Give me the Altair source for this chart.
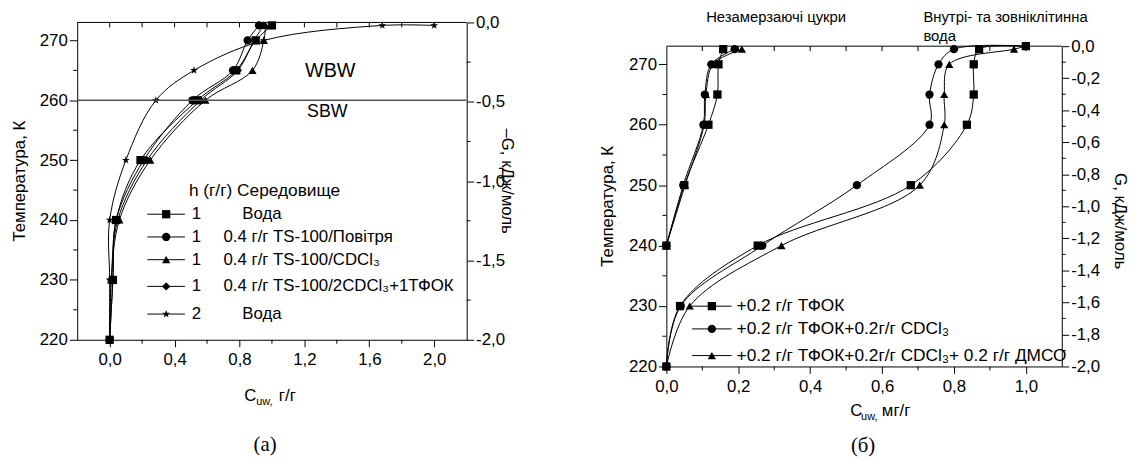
import altair as alt
import pandas as pd

FONT = "Liberation Sans"
SERIF = "Liberation Serif"

# ---------------- panel (a) data ----------------
a_T = [220, 230, 240, 250, 260, 265, 270, 272.5]
a_voda = [0.00, 0.02, 0.04, 0.19, 0.54, 0.78, 0.90, 1.00]
a_povitria = [0.00, 0.02, 0.04, 0.21, 0.51, 0.76, 0.85, 0.92]
a_cdcl3 = [0.00, 0.01, 0.06, 0.25, 0.59, 0.88, 0.95, 0.96]
a_tfok = [0.00, 0.01, 0.05, 0.23, 0.56, 0.79, 0.89, 0.95]
a_T2 = [220, 230, 240, 250, 260, 265, 270, 272.5, 272.5]
a_voda2 = [0.00, 0.00, 0.00, 0.10, 0.285, 0.52, 0.95, 1.68, 2.00]

a_names = ["1 Вода", "1 Повітря", "1 CDCl3", "1 2CDCl3+1ТФОК", "2 Вода"]
a_leg_h = ["1", "1", "1", "1", "2"]
a_leg_text = ["Вода", "0.4 г/г TS-100/Повітря", "0.4 г/г TS-100/CDCl₃",
              "0.4 г/г TS-100/2CDCl₃+1ТФОК", "Вода"]
a_leg_head = "h (г/г) Середовище"
a_hline = [260]
a_zone = ["WBW", "SBW"]

a_x_major = [0.0, 0.4, 0.8, 1.2, 1.6, 2.0]
a_x_minor = [0.2, 0.6, 1.0, 1.4, 1.8]
a_x_top = [0.0, 0.2, 0.4, 0.6, 0.8, 1.0, 1.2, 1.4, 1.6, 1.8, 2.0]
a_G_major = [0.0, -0.5, -1.0, -1.5, -2.0]
a_G_minor = [-0.25, -0.75, -1.25, -1.75]

# ---------------- panel (б) data ----------------
b_T_s = [240, 250, 260, 265, 270, 272.5]
b_sq_s = [0.00, 0.050, 0.117, 0.142, 0.145, 0.158]
b_ci_s = [0.00, 0.047, 0.103, 0.107, 0.125, 0.190]
b_tr_s = [0.00, 0.052, 0.105, 0.110, 0.130, 0.210]
b_T_w = [220, 230, 240, 250, 260, 265, 270, 272.5, 273]
b_sq_w = [0.00, 0.038, 0.254, 0.68, 0.836, 0.855, 0.855, 0.87, 1.00]
b_ci_w = [0.00, 0.040, 0.267, 0.53, 0.732, 0.732, 0.757, 0.80, 1.00]
b_tr_w = [0.00, 0.065, 0.320, 0.705, 0.773, 0.773, 0.787, 0.967, 1.00]

b_names = ["ТФОК", "ТФОК+CDCl3", "ТФОК+CDCl3+ДМСО"]
b_leg_text = ["+0.2 г/г ТФОК", "+0.2 г/г ТФОК+0.2г/г CDCl₃",
              "+0.2 г/г ТФОК+0.2г/г CDCl₃+ 0.2 г/г ДМСО"]
b_note1 = "Незамерзаючі цукри"
b_note2 = ["Внутрі- та зовніклітинна", "вода"]

b_x_major = [0.0, 0.2, 0.4, 0.6, 0.8, 1.0]
b_x_minor = [0.1, 0.3, 0.5, 0.7, 0.9]
b_x_top = [0.1, 0.2, 0.3, 0.4, 0.5, 0.6, 0.7, 0.8, 0.9, 1.0]
b_G_major = [0.0, -0.2, -0.4, -0.6, -0.8, -1.0, -1.2, -1.4, -1.6, -1.8, -2.0]
b_G_minor = [-0.1, -0.3, -0.5, -0.7, -0.9, -1.1, -1.3, -1.5, -1.7, -1.9]

T_major = [220, 230, 240, 250, 260, 270]
T_minor = [225, 235, 245, 255, 265]

y_title = "Температура, К"
a_g_title = "–G, кДж/моль"
b_g_title = "G, кДж/моль"

STAR = ("M0,-1L0.224,-0.309L0.951,-0.309L0.363,0.118L0.588,0.809L0,0.382"
        "L-0.588,0.809L-0.363,0.118L-0.951,-0.309L-0.224,-0.309Z")

DUMMY = pd.DataFrame({"d": [0]})


def lab(dec):
    return ("replace(replace(format(datum.value, '.%df'), '.', ','), '\u2212', '-')" % dec)


def txt(s, x, y, size=16, align="left", font=FONT, angle=0):
    return alt.Chart(DUMMY).mark_text(text=s, align=align, baseline="middle", fontSize=size,
                                      font=font, color="black", angle=angle).encode(
        x=alt.value(x), y=alt.value(y))


def seg(x1, x2, y):
    return alt.Chart(DUMMY).mark_rule(color="black", strokeWidth=1).encode(
        x=alt.value(x1), x2=alt.value(x2), y=alt.value(y))


def sym(shape, x, y, size=70):
    return alt.Chart(DUMMY).mark_point(shape=shape, filled=True, color="black", opacity=1,
                                       size=size).encode(x=alt.value(x), y=alt.value(y))


def build_panel(df, names, shapes, W, H, top, xdom, xmaj, xmin_, xtop,
                gmaj, gmin, extras):
    xs = alt.Scale(domain=xdom, nice=False, zero=False)
    ys = alt.Scale(domain=[220, 273], nice=False, zero=False, range=[H, top])
    gs = alt.Scale(domain=[-2, 0], nice=False, zero=False, range=[H, top])
    lines = alt.Chart(df).mark_line(interpolate="catmull-rom", color="black", strokeWidth=1).encode(
        x=alt.X("x:Q", scale=xs, axis=alt.Axis(values=xmaj, tickSize=7, labelPadding=5,
                                                labelExpr=lab(1), labelFlush=False, title=None)),
        y=alt.Y("T:Q", scale=ys, axis=alt.Axis(values=T_major, tickSize=8, labelPadding=2,
                                                title=None)),
        detail="c:N", order="i:Q")
    pts = alt.Chart(df).mark_point(filled=True, color="black", opacity=1, size=70).encode(
        x=alt.X("x:Q", scale=xs, axis=None),
        y=alt.Y("T:Q", scale=ys, axis=None),
        shape=alt.Shape("s:N", scale=alt.Scale(domain=names, range=shapes), legend=None))
    frame_top = alt.Chart(DUMMY).mark_rule(color="black", strokeWidth=1).encode(
        x=alt.value(0), x2=alt.value(W), y=alt.value(top))
    ticks_top = alt.Chart(pd.DataFrame({"v": xtop})).mark_rule(color="black").encode(
        x=alt.X("v:Q", scale=xs, axis=None), y=alt.value(top), y2=alt.value(top + 5))
    ticks_bot = alt.Chart(pd.DataFrame({"v": xmin_})).mark_rule(color="black").encode(
        x=alt.X("v:Q", scale=xs, axis=None), y=alt.value(H), y2=alt.value(H + 4))
    ticks_left = alt.Chart(pd.DataFrame({"v": T_minor})).mark_rule(color="black").encode(
        y=alt.Y("v:Q", scale=ys, axis=None), x=alt.value(-4), x2=alt.value(0))
    gl = alt.Chart(pd.DataFrame({"g": gmin})).mark_rule(color="black").encode(
        y=alt.Y("g:Q", scale=gs, axis=alt.Axis(orient="right", values=gmaj, tickSize=7,
                                                labelPadding=2, labelExpr=lab(1), title=None)),
        x=alt.value(W), x2=alt.value(W + 4))
    layers = [lines, pts, frame_top, ticks_top, ticks_bot, ticks_left] + extras(ys) + [gl]
    return alt.layer(*layers).resolve_scale(x="independent", y="independent").properties(
        width=W, height=H)


# ---- build dataframes ----
rows = []
for name, xs_ in zip(a_names[:4], [a_voda, a_povitria, a_cdcl3, a_tfok]):
    for i, (t, v) in enumerate(zip(a_T, xs_)):
        rows.append({"s": name, "c": name, "i": i, "x": v, "T": t})
for i, (t, v) in enumerate(zip(a_T2, a_voda2)):
    rows.append({"s": a_names[4], "c": a_names[4], "i": i, "x": v, "T": t})
df_a = pd.DataFrame(rows)

rows = []
for name, s_, w_ in zip(b_names, [b_sq_s, b_ci_s, b_tr_s], [b_sq_w, b_ci_w, b_tr_w]):
    for i, (t, v) in enumerate(zip(b_T_s, s_)):
        rows.append({"s": name, "c": name + "_s", "i": i, "x": v, "T": t})
    for i, (t, v) in enumerate(zip(b_T_w, w_)):
        rows.append({"s": name, "c": name + "_w", "i": i, "x": v, "T": t})
df_b = pd.DataFrame(rows)

A_SHAPES = ["square", "circle", "triangle-up", "diamond", STAR]
B_SHAPES = ["square", "circle", "triangle-up"]

WA, HA = 394, 321
WB, HB, TB = 400, 348, 24


def extras_a(ys):
    lay = [alt.Chart(pd.DataFrame({"T": a_hline})).mark_rule(color="#555555", strokeWidth=1.5).encode(
        y=alt.Y("T:Q", scale=ys, axis=None))]
    lay.append(txt(a_zone[0], 256, 49, 20, "center"))
    lay.append(txt(a_zone[1], 253, 91, 18, "center"))
    lay.append(txt(a_leg_head, 113, 171, 17.5))
    ys_leg = [194, 217, 240, 267, 295]
    for k in range(5):
        y = ys_leg[k]
        lay.append(seg(71, 109, y))
        lay.append(sym(A_SHAPES[k], 90, y))
        lay.append(txt(a_leg_h[k], 116, y, 17))
        lay.append(txt(a_leg_text[k], 167 if a_leg_text[k] == "Вода" else 148, y, 17))
    lay.append(txt("C", 169, 378, 17))
    lay.append(txt("uw,", 181, 384, 11))
    lay.append(txt("г/г", 204, 378, 17))
    lay.append(txt("(a)", 190, 428, 21, "center", SERIF))
    lay.append(txt(y_title, -58, HA / 2, 17, "center", FONT, 270))
    lay.append(txt(a_g_title, WA + 41, HA / 2, 17, "center", FONT, 90))
    return lay


def extras_b(ys):
    lay = []
    o = TB
    ys_leg = [263, 286, 313]
    for k in range(3):
        y = ys_leg[k] + o
        lay.append(seg(26, 66, y))
        lay.append(sym(B_SHAPES[k], 46, y))
        lay.append(txt(b_leg_text[k], 71, y, 17.5))
    lay.append(txt(b_note1, 111, -29 + o, 15, "center"))
    lay.append(txt(b_note2[0], 260, -29 + o, 15))
    lay.append(txt(b_note2[1], 260, -10 + o, 15))
    lay.append(txt("C", 186, 369 + o, 17))
    lay.append(txt("uw,", 197, 375 + o, 11))
    lay.append(txt("мг/г", 218, 369 + o, 17))
    lay.append(txt("(б)", 199, 405 + o, 21, "center", SERIF))
    lay.append(txt(y_title, -59, o + 162, 17, "center", FONT, 270))
    lay.append(txt(b_g_title, WB + 59, o + 177, 17, "center", FONT, 90))
    return lay


panel_a = build_panel(df_a, a_names, A_SHAPES, WA, HA, 0, [-0.2, 2.2], a_x_major, a_x_minor, a_x_top,
                      a_G_major, a_G_minor, extras_a)
panel_b = build_panel(df_b, b_names, B_SHAPES, WB, HB, TB, [0, 1.1], b_x_major, b_x_minor, b_x_top,
                      b_G_major, b_G_minor, extras_b)

chart = alt.hconcat(panel_a, panel_b, spacing=82).properties(
    padding={"left": 2, "top": -1, "right": 0, "bottom": 0}, background="white"
).configure_view(stroke="transparent").configure_axis(
    domainColor="black", tickColor="black", labelColor="black", titleColor="black",
    labelFont=FONT, titleFont=FONT, labelFontSize=17, titleFontSize=17,
    titleFontWeight="normal", grid=False, labelOverlap=False
)

chart.save("out.html", embed_options={"renderer": "svg", "actions": False})
